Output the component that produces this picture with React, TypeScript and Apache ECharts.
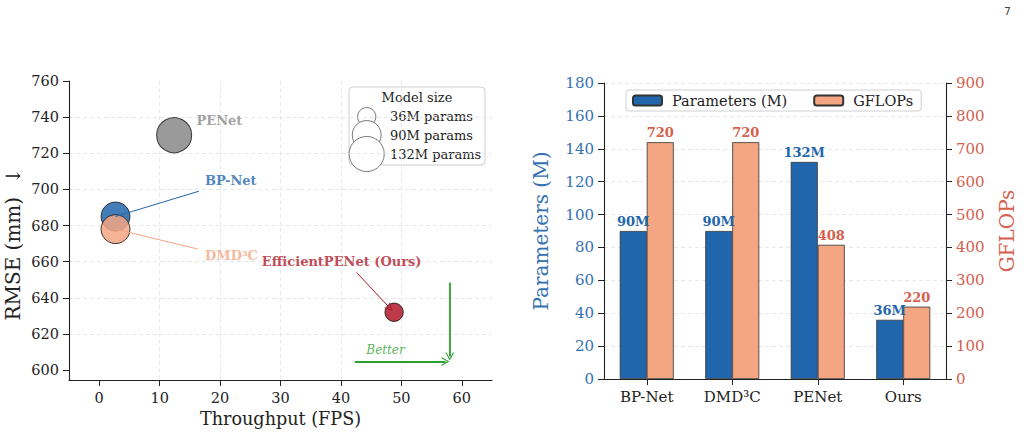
import React, { useEffect, useRef } from "react";
import * as echarts from "echarts";

// Scatter: throughput vs. error, bubble area scales with parameter count
const models = ["BP-Net", "DMD³C", "PENet", "EfficientPENet (Ours)"];
const fps = [2.7, 2.7, 12.4, 48.8];
const rmse = [685, 678, 730, 632];
const modelParams = [90, 90, 132, 36];
const modelColors = ["#2166ac", "#f4a582", "#888888", "#b2182b"];
const drawOrder = [2, 0, 1, 3];

// Bars: parameters and compute per method
const barCategories = ["BP-Net", "DMD³C", "PENet", "Ours"];
const paramsM = [90, 90, 132, 36];
const gflops = [720, 720, 408, 220];

const sizeLegendParams = [36, 90, 132];
const rmseTicks = [600, 620, 640, 660, 680, 700, 720, 740, 760];
const fpsTicks = [0, 10, 20, 30, 40, 50, 60];

// Annotation anchors in data coordinates
const nameLabels = [
  { x: 16.1, y: 738, text: "PENet", color: "#888888" },
  { x: 17.5, y: 705, text: "BP-Net", color: "#2166ac" },
  { x: 17.5, y: 663.3, text: "DMD³C", color: "#f4a582" },
  { x: 26.9, y: 660, text: "EfficientPENet (Ours)", color: "#b2182b" },
];

const SERIF = "DejaVu Serif";
const BLUE = "#2166ac";
const BLUE_TXT = "#3471b3";
const RED_TXT = "#d6604d";
const GREEN = "#2ca02c";
const ARROW = "path://M5,0 L10,10 L8.6,10 L5,2.8 L1.4,10 L0,10 Z";

const bubble = (p: number) => Math.sqrt(p) * 3.05;

export default function App() {
  const ref = useRef<HTMLDivElement>(null);

  useEffect(() => {
    if (!ref.current) return;
    const chart = echarts.init(ref.current, undefined, { renderer: "svg" });

    const gridSplit = { show: true, lineStyle: { color: "#e2e2e2", width: 0.8, type: [4, 3] } };
    const axisLine = { show: true, onZero: false, lineStyle: { color: "#222", width: 1.1 } };
    const tick = (color = "#222") => ({ show: true, length: 6, inside: false, lineStyle: { color, width: 1 } });

    const legendX = 366.7;
    const legendYs = [116.7, 135, 154];

    chart.setOption({
      animation: false,
      backgroundColor: "#fff",
      textStyle: { fontFamily: SERIF },
      grid: [
        { left: 69, top: 81, width: 423, height: 303 },
        { left: 604, top: 83, width: 342, height: 296 },
      ],
      legend: {
        data: ["Parameters (M)", "GFLOPs"],
        left: 626,
        top: 90,
        orient: "horizontal",
        itemWidth: 29,
        itemHeight: 10,
        itemGap: 26,
        padding: [3, 8, 3, 6],
        borderColor: "#cfcfcf",
        borderWidth: 1,
        borderRadius: 3,
        backgroundColor: "rgba(255,255,255,0.85)",
        textStyle: { fontFamily: SERIF, fontSize: 14.5, color: "#222", padding: [0, 0, 0, 5] },
      },
      xAxis: [
        {
          type: "value",
          gridIndex: 0,
          min: -5,
          max: 65,
          name: "Throughput (FPS)",
          nameLocation: "middle",
          nameGap: 30,
          nameTextStyle: { fontFamily: SERIF, fontSize: 17.6, color: "#222" },
          axisLine,
          axisTick: { ...tick(), customValues: fpsTicks },
          axisLabel: { customValues: fpsTicks, fontFamily: SERIF, fontSize: 14.5, color: "#222", margin: 10 },
          splitLine: { ...gridSplit, showMinLine: false, showMaxLine: false },
        },
        {
          type: "category",
          gridIndex: 1,
          data: barCategories,
          axisLine,
          axisTick: { ...tick(), alignWithLabel: true },
          axisLabel: { fontFamily: SERIF, fontSize: 15, color: "#222", margin: 10 },
          splitLine: { show: false },
        },
      ],
      yAxis: [
        {
          type: "value",
          gridIndex: 0,
          min: 594.5,
          max: 760,
          name: "RMSE (mm)  ↓",
          nameLocation: "middle",
          nameGap: 46,
          nameTextStyle: { fontFamily: SERIF, fontSize: 20, color: "#222", padding: [0, 27, 0, 0] },
          axisLine,
          axisTick: { ...tick(), customValues: rmseTicks },
          axisLabel: { customValues: rmseTicks, fontFamily: SERIF, fontSize: 14.5, color: "#222", margin: 10 },
          splitLine: { ...gridSplit, showMinLine: false, showMaxLine: false },
        },
        {
          type: "value",
          gridIndex: 1,
          min: 0,
          max: 180,
          interval: 20,
          name: "Parameters (M)",
          nameLocation: "middle",
          nameGap: 53,
          nameTextStyle: { fontFamily: SERIF, fontSize: 20, color: BLUE_TXT },
          axisLine,
          axisTick: tick(),
          axisLabel: { fontFamily: SERIF, fontSize: 15, color: BLUE_TXT, margin: 10 },
          splitLine: { ...gridSplit, showMinLine: false },
        },
        {
          type: "value",
          gridIndex: 1,
          position: "right",
          min: 0,
          max: 900,
          interval: 100,
          name: "GFLOPs",
          nameLocation: "middle",
          nameGap: 51,
          nameRotate: 90,
          nameTextStyle: { fontFamily: SERIF, fontSize: 20, color: RED_TXT },
          axisLine,
          axisTick: tick(),
          axisLabel: { fontFamily: SERIF, fontSize: 15, color: RED_TXT, margin: 10 },
          splitLine: { show: false },
        },
      ],
      series: [
        {
          type: "scatter",
          xAxisIndex: 0,
          yAxisIndex: 0,
          symbolSize: (v: number[]) => bubble(v[2]),
          data: drawOrder.map((i) => ({
            name: models[i],
            value: [fps[i], rmse[i], modelParams[i]],
            itemStyle: { color: modelColors[i], opacity: 0.85, borderColor: "#1a1a1a", borderWidth: 1 },
          })),
          z: 3,
        },
        {
          type: "scatter",
          xAxisIndex: 0,
          yAxisIndex: 0,
          symbolSize: 0,
          silent: true,
          z: 4,
          data: nameLabels.map((l) => ({
            value: [l.x, l.y],
            label: {
              show: true,
              position: "right",
              distance: 0,
              formatter: l.text,
              color: l.color,
              fontFamily: SERIF,
              fontWeight: "bold",
              fontSize: 13,
            },
          })).concat([
            {
              value: [44.2, 611.2],
              label: {
                show: true,
                position: "right",
                distance: 0,
                formatter: "Better",
                color: GREEN,
                fontFamily: SERIF,
                fontWeight: "normal",
                fontSize: 12,
                fontStyle: "italic",
              } as any,
            },
          ]),
          markLine: {
            silent: true,
            animation: false,
            label: { show: false },
            symbol: ["none", "none"],
            data: [
              [
                { coord: [16.5, 699], symbol: "none" },
                { coord: [fps[0], rmse[0]], symbol: "none" },
              ],
              [
                { coord: [16.3, 667], symbol: "none" },
                { coord: [fps[1], rmse[1]], symbol: "none" },
              ],
            ].map((seg, k) => [
              { ...seg[0], lineStyle: { color: modelColors[k], width: 1, type: "solid" } },
              seg[1],
            ]).concat([
              [
                { coord: [42.6, 654], symbol: "none", lineStyle: { color: "#b2182b", width: 1, type: "solid" } } as any,
                { coord: [48.1, 634.3], symbol: ARROW, symbolSize: [8, 8] } as any,
              ],
              [
                { coord: [42.3, 604.8], symbol: "none", lineStyle: { color: GREEN, width: 1.8, type: "solid" } } as any,
                { coord: [57.3, 604.8], symbol: ARROW, symbolSize: [9, 8] } as any,
              ],
              [
                { coord: [58, 648.5], symbol: "none", lineStyle: { color: GREEN, width: 1.8, type: "solid" } } as any,
                { coord: [58, 607.5], symbol: ARROW, symbolSize: [9, 8] } as any,
              ],
            ]),
          },
        },
        {
          type: "bar",
          name: "Parameters (M)",
          xAxisIndex: 1,
          yAxisIndex: 1,
          data: paramsM,
          barWidth: 27,
          barGap: "0%",
          itemStyle: { color: BLUE, borderColor: "#333", borderWidth: 0.8 },
          label: {
            show: true,
            position: "top",
            distance: 3,
            formatter: (p: any) => `${p.value}M`,
            color: BLUE,
            fontFamily: SERIF,
            fontWeight: "bold",
            fontSize: 13,
          },
        },
        {
          type: "bar",
          name: "GFLOPs",
          xAxisIndex: 1,
          yAxisIndex: 2,
          data: gflops,
          barWidth: 27,
          barGap: "0%",
          itemStyle: { color: "#f4a582", borderColor: "#333", borderWidth: 0.8 },
          label: {
            show: true,
            position: "top",
            distance: 3,
            color: RED_TXT,
            fontFamily: SERIF,
            fontWeight: "bold",
            fontSize: 13,
          },
        },
      ],
      graphic: [
        {
          type: "group",
          z: 100,
          children: [
            {
              type: "rect",
              shape: { x: 349, y: 87, width: 136, height: 78, r: 4 },
              style: { fill: "rgba(255,255,255,0.85)", stroke: "#cfcfcf", lineWidth: 1 },
            },
            {
              type: "text",
              x: 417,
              y: 97.5,
              style: {
                text: "Model size",
                fontFamily: SERIF,
                fontSize: 13,
                fill: "#222",
                align: "center",
                verticalAlign: "middle",
              },
            },
            ...sizeLegendParams.map((p, i) => ({
              type: "circle",
              shape: { cx: legendX, cy: legendYs[i], r: bubble(p) / 2 },
              style: { fill: "#fff", stroke: "#555", lineWidth: 0.8 },
            })),
            ...sizeLegendParams.map((p, i) => ({
              type: "text",
              x: 390,
              y: legendYs[i],
              style: {
                text: `${p}M params`,
                fontFamily: SERIF,
                fontSize: 13,
                fill: "#222",
                align: "left",
                verticalAlign: "middle",
              },
            })),
          ],
        },
        {
          type: "text",
          x: 1004,
          y: 6,
          style: { text: "7", fontFamily: "DejaVu Sans", fontSize: 11, fill: "#444" },
        },
      ],
    });

    return () => chart.dispose();
  }, []);

  return (
    <div
      ref={ref}
      style={{ position: "fixed", left: 0, top: 0, width: 1032, height: 433, background: "#fff" }}
    />
  );
}
